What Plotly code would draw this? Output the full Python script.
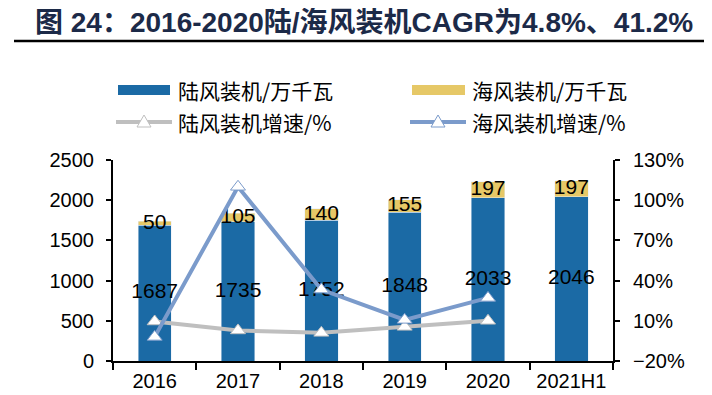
import plotly.graph_objects as go

categories = ["2016", "2017", "2018", "2019", "2020", "2021H1"]
onshore = [1687, 1735, 1752, 1848, 2033, 2046]
offshore = [50, 105, 140, 155, 197, 197]
growth_years = ["2016", "2017", "2018", "2019", "2020"]
onshore_growth = [9.5, 2.8, 1.0, 5.5, 10.0]
offshore_growth = [-2.0, 110.0, 33.3, 10.7, 27.1]

C_ON = "#1b6aa5"
C_OFF = "#e6c867"
C_ONG = "#bfbfbf"
C_OFFG = "#7b9bcb"
FONT = "Liberation Sans, Arial, Noto Sans CJK SC"
CJK = "Noto Sans CJK SC"

fig = go.Figure()
fig.add_trace(go.Bar(x=categories, y=onshore, marker_color=C_ON, width=0.4, name="陆风装机/万千瓦"))
fig.add_trace(go.Bar(x=categories, y=offshore, marker_color=C_OFF, width=0.4, name="海风装机/万千瓦"))
fig.add_trace(go.Scatter(x=growth_years, y=onshore_growth, yaxis="y2", mode="lines+markers",
                         line=dict(color=C_ONG, width=4),
                         marker=dict(symbol="triangle-up", size=13, color="white", line=dict(color=C_ONG, width=1)),
                         name="陆风装机增速/%"))
fig.add_trace(go.Scatter(x=growth_years, y=offshore_growth, yaxis="y2", mode="lines+markers",
                         line=dict(color=C_OFFG, width=4),
                         marker=dict(symbol="triangle-up", size=13, color="white", line=dict(color=C_OFFG, width=1)),
                         name="海风装机增速/%"))
# value labels
fig.add_trace(go.Scatter(x=categories, y=[v / 2 for v in onshore], mode="text",
                         text=[str(v) for v in onshore], textfont=dict(size=21, color="black", family=FONT),
                         hoverinfo="skip"))
fig.add_trace(go.Scatter(x=categories, y=[a + b / 2 for a, b in zip(onshore, offshore)], mode="text",
                         text=[str(v) for v in offshore], textfont=dict(size=21, color="black", family=FONT),
                         hoverinfo="skip"))

OFF = 8  # browser body margin
W, H = 712 - OFF, 395 - OFF
L, R, T, B = 113 - OFF, 613 - OFF, 160 - OFF, 361 - OFF


def px(x):
    return (x - OFF - L) / (R - L)


def py(y):
    return (B - (y - OFF)) / (B - T)


shapes = []
annotations = []
shapes.append(dict(type="line", xref="paper", yref="paper", x0=px(14), x1=px(705), y0=py(41), y1=py(41),
                   line=dict(color="black", width=2.5)))
annotations.append(dict(xref="paper", yref="paper", x=px(33), y=py(22), xanchor="left", yanchor="middle",
                        showarrow=False, text="<b>图 24：2016-2020陆/海风装机CAGR为4.8%、41.2%</b>",
                        font=dict(size=28, color="#1c2a48", family=FONT)))

# custom legend
leg_items = [
    ("rect", C_ON, 118, 170, 90, "陆风装机/万千瓦", 176),
    ("rect", C_OFF, 412, 465, 90, "海风装机/万千瓦", 470),
    ("line", C_ONG, 116, 172, 122, "陆风装机增速/%", 176),
    ("line", C_OFFG, 410, 466, 122, "海风装机增速/%", 470),
]
for kind, col, x0, x1, yc, txt, tx in leg_items:
    if kind == "rect":
        shapes.append(dict(type="rect", xref="paper", yref="paper", x0=px(x0), x1=px(x1),
                           y0=py(yc + 5), y1=py(yc - 5), fillcolor=col, line=dict(width=0)))
    else:
        shapes.append(dict(type="line", xref="paper", yref="paper", x0=px(x0), x1=px(x1),
                           y0=py(yc), y1=py(yc), line=dict(color=col, width=4)))
        cx = (x0 + x1) / 2
        shapes.append(dict(type="path", xref="paper", yref="paper", xsizemode="pixel", ysizemode="pixel",
                           xanchor=px(cx), yanchor=py(yc), path="M-7,-5 L7,-5 L0,7 Z",
                           fillcolor="white", line=dict(color=col, width=1)))
    annotations.append(dict(xref="paper", yref="paper", x=px(tx), y=py(yc), xanchor="left", yanchor="middle",
                            showarrow=False, text=txt, font=dict(size=21, color="black", family=CJK)))

fig.update_layout(
    width=W, height=H,
    margin=dict(l=L, r=W - R, t=T, b=H - B, pad=0),
    barmode="stack",
    showlegend=False,
    plot_bgcolor="white", paper_bgcolor="white",
    font=dict(family=FONT, size=20, color="black"),
    xaxis=dict(type="category", range=[-0.5, 5.5], showline=True, linecolor="black", linewidth=2,
               ticks="outside", tickson="boundaries", ticklen=7, tickwidth=2, tickcolor="black",
               showgrid=False, tickfont=dict(size=20, color="black"), automargin=False,
               ticklabelstandoff=1),
    yaxis=dict(range=[0, 2500], dtick=500, showline=True, linecolor="black", linewidth=2,
               ticks="outside", ticklen=5, tickwidth=2, tickcolor="black", showgrid=False, zeroline=False,
               ticklabelstandoff=8, tickfont=dict(size=20, color="black"), automargin=False),
    yaxis2=dict(range=[-20, 130], dtick=30, tick0=-20, overlaying="y", side="right", showline=True,
                linecolor="black", linewidth=2, ticks="outside", ticklen=5, tickwidth=2, tickcolor="black",
                showgrid=False, zeroline=False, ticksuffix="%", ticklabelstandoff=9,
                tickfont=dict(size=20, color="black"), automargin=False),
    shapes=shapes,
    annotations=annotations,
)

fig.write_html("out.html")
